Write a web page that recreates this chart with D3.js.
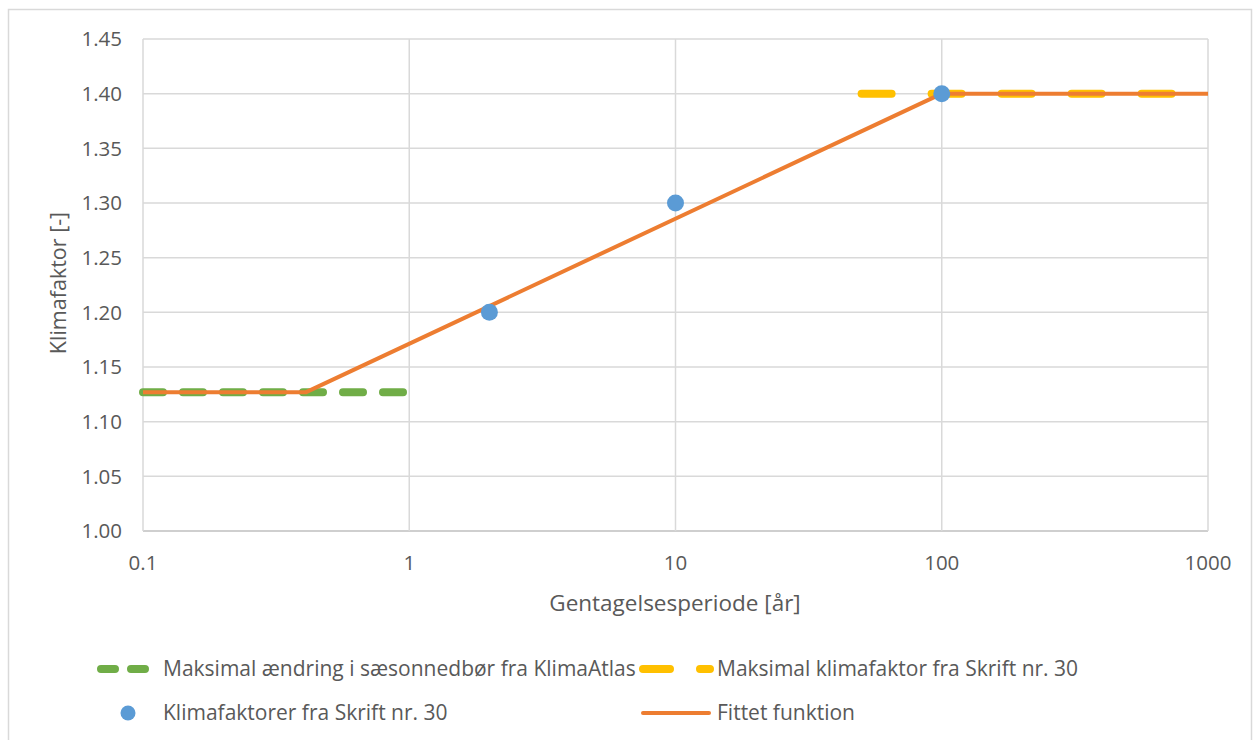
<!DOCTYPE html>
<html>
<head>
<meta charset="utf-8">
<script src="https://cdn.jsdelivr.net/npm/d3@7"></script>
<style>
  html, body { margin: 0; padding: 0; background: #fff; }
  svg text { font-family: "Open Sans", Lato, sans-serif; fill: #595959; }
</style>
</head>
<body>
<svg id="chart" width="1260" height="740"></svg>
<script>
// Axis ticks
const xTicks = [0.1, 1, 10, 100, 1000];
const xTickLabels = ["0.1", "1", "10", "100", "1000"];
const yTicks = [1.00, 1.05, 1.10, 1.15, 1.20, 1.25, 1.30, 1.35, 1.40, 1.45];

// Series: max change in seasonal precipitation (KlimaAtlas)
const klimaAtlasX = [0.1, 1];
const klimaAtlasY = [1.127, 1.127];

// Series: max climate factor (Skrift nr. 30)
const skriftMaxX = [50, 1000];
const skriftMaxY = [1.40, 1.40];

// Series: climate factors (Skrift nr. 30)
const faktorX = [2, 10, 100];
const faktorY = [1.20, 1.30, 1.40];

// Series: fitted function
const fitX = [0.1, 0.41, 100, 1000];
const fitY = [1.127, 1.127, 1.40, 1.40];

const legendLabels = [
  "Maksimal ændring i sæsonnedbør fra KlimaAtlas",
  "Maksimal klimafaktor fra Skrift nr. 30",
  "Klimafaktorer fra Skrift nr. 30",
  "Fittet funktion"
];

const colors = { green: "#70AD47", yellow: "#FFC000", blue: "#5B9BD5", orange: "#ED7D31" };

const svg = d3.select("#chart");
const plot = { left: 143, right: 1208, top: 39, bottom: 531 };

const x = d3.scaleLog().domain([0.1, 1000]).range([plot.left, plot.right]);
const y = d3.scaleLinear().domain([1.00, 1.45]).range([plot.bottom, plot.top]);

// Outer chart frame
svg.append("rect")
  .attr("x", 8.5).attr("y", 9.5).attr("width", 1243).attr("height", 740)
  .attr("fill", "none").attr("stroke", "#d9d9d9").attr("stroke-width", 1.5);

// Horizontal gridlines
svg.append("g").selectAll("line").data(yTicks).join("line")
  .attr("x1", plot.left).attr("x2", plot.right)
  .attr("y1", d => y(d)).attr("y2", d => y(d))
  .attr("stroke", d => d === 1.00 ? "#bfbfbf" : "#d9d9d9").attr("stroke-width", 1.5);

// Vertical gridlines
svg.append("g").selectAll("line").data(xTicks).join("line")
  .attr("x1", d => x(d)).attr("x2", d => x(d))
  .attr("y1", plot.top).attr("y2", plot.bottom)
  .attr("stroke", "#d9d9d9").attr("stroke-width", 1.5);

// Y tick labels
svg.append("g").selectAll("text").data(yTicks).join("text")
  .attr("x", 122).attr("y", d => y(d))
  .attr("dy", "0.35em").attr("text-anchor", "end")
  .style("font-size", "20.5px")
  .text(d => d3.format(".2f")(d));

// X tick labels
svg.append("g").selectAll("text").data(xTicks).join("text")
  .attr("x", d => x(d)).attr("y", 563)
  .attr("dy", "0.35em").attr("text-anchor", "middle")
  .style("font-size", "20.5px")
  .text((d, i) => xTickLabels[i]);

// Axis titles
svg.append("text")
  .attr("x", 675).attr("y", 603)
  .attr("dy", "0.35em").attr("text-anchor", "middle")
  .style("font-size", "22.5px")
  .text("Gentagelsesperiode [år]");

svg.append("text")
  .attr("transform", "translate(58,283) rotate(-90)")
  .attr("dy", "0.35em").attr("text-anchor", "middle")
  .style("font-size", "21.5px")
  .text("Klimafaktor [-]");

const line = d3.line().x(d => x(d[0])).y(d => y(d[1]));

// KlimaAtlas dashed line
svg.append("path")
  .datum(d3.zip(klimaAtlasX, klimaAtlasY))
  .attr("d", line).attr("fill", "none")
  .attr("stroke", colors.green).attr("stroke-width", 8)
  .attr("stroke-linecap", "round").attr("stroke-dasharray", "20 20");

// Skrift nr. 30 maximum dashed line
svg.append("path")
  .datum(d3.zip(skriftMaxX, skriftMaxY))
  .attr("d", line).attr("fill", "none")
  .attr("stroke", colors.yellow).attr("stroke-width", 8)
  .attr("stroke-linecap", "round").attr("stroke-dasharray", "30 40");

// Fitted function
svg.append("path")
  .datum(d3.zip(fitX, fitY))
  .attr("d", line).attr("fill", "none")
  .attr("stroke", colors.orange).attr("stroke-width", 4)
  .attr("stroke-linejoin", "round");

// Climate factor points
svg.append("g").selectAll("circle").data(d3.zip(faktorX, faktorY)).join("circle")
  .attr("cx", d => x(d[0])).attr("cy", d => y(d[1])).attr("r", 8.5)
  .attr("fill", colors.blue);

// Legend
const lg = svg.append("g");
const row1 = 669, row2 = 713;
const legendFont = "21px";

// Green dashed sample
lg.append("line").attr("x1", 101).attr("x2", 146).attr("y1", row1).attr("y2", row1)
  .attr("stroke", colors.green).attr("stroke-width", 8)
  .attr("stroke-linecap", "round").attr("stroke-dasharray", "14 16");
lg.append("text").attr("x", 163).attr("y", row1).attr("dy", "0.35em")
  .style("font-size", legendFont).text(legendLabels[0]);

// Yellow dashed sample
lg.append("line").attr("x1", 643).attr("x2", 710).attr("y1", row1).attr("y2", row1)
  .attr("stroke", colors.yellow).attr("stroke-width", 8)
  .attr("stroke-linecap", "round").attr("stroke-dasharray", "27 30");
lg.append("text").attr("x", 717).attr("y", row1).attr("dy", "0.35em")
  .style("font-size", legendFont).text(legendLabels[1]);

// Blue marker sample
lg.append("circle").attr("cx", 128).attr("cy", row2).attr("r", 7.5).attr("fill", colors.blue);
lg.append("text").attr("x", 163).attr("y", row2).attr("dy", "0.35em")
  .style("font-size", legendFont).text(legendLabels[2]);

// Orange line sample
lg.append("line").attr("x1", 643).attr("x2", 709).attr("y1", row2).attr("y2", row2)
  .attr("stroke", colors.orange).attr("stroke-width", 4).attr("stroke-linecap", "round");
lg.append("text").attr("x", 717).attr("y", row2).attr("dy", "0.35em")
  .style("font-size", legendFont).text(legendLabels[3]);
</script>
</body>
</html>
